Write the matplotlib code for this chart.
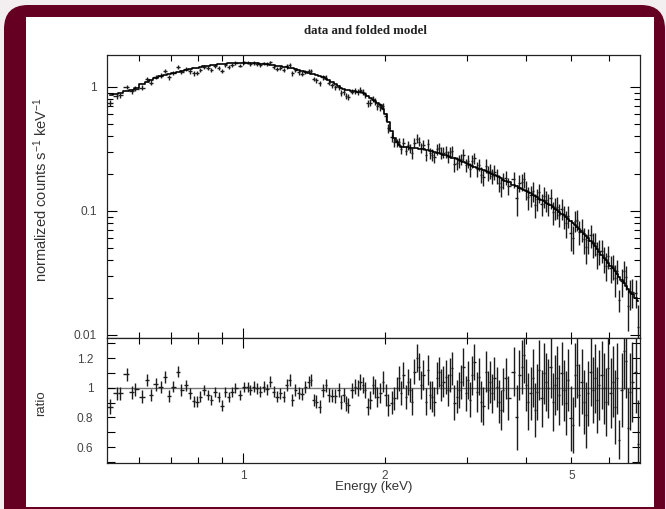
import numpy as np
import matplotlib
matplotlib.use("Agg")
import matplotlib.pyplot as plt
from matplotlib.patches import FancyBboxPatch, Rectangle
from matplotlib.transforms import IdentityTransform
from matplotlib.ticker import FixedLocator, FuncFormatter, NullFormatter, LogLocator, MultipleLocator

plt.rcParams.update({
    "font.family": "Liberation Sans",
    "mathtext.fontset": "custom",
    "mathtext.rm": "Liberation Sans",
    "mathtext.it": "Liberation Sans:italic",
    "font.size": 8.6,
    "axes.linewidth": 0.9,
})

# ===============================
# spectrum: channel energy (keV), folded model,
# data/model ratio and its 1-sigma error
# ===============================
energy = [
    0.520, 0.537, 0.545, 0.564, 0.580, 0.589, 0.609, 0.624, 0.636, 0.650,
    0.666, 0.682, 0.694, 0.709, 0.725, 0.738, 0.755, 0.769, 0.784, 0.797,
    0.810, 0.826, 0.840, 0.855, 0.872, 0.886, 0.901, 0.916, 0.930, 0.946,
    0.962, 0.982, 1.005, 1.023,
    1.035, 1.052, 1.069, 1.087, 1.105, 1.123, 1.141, 1.160, 1.180, 1.199,
    1.218, 1.239, 1.255, 1.270, 1.290, 1.311, 1.333, 1.355, 1.377, 1.393,
    1.411, 1.430, 1.453, 1.478, 1.502, 1.519, 1.544, 1.570, 1.595, 1.614,
    1.635, 1.656, 1.675, 1.703, 1.731, 1.751, 1.774, 1.798, 1.818, 1.839,
    1.863, 1.888, 1.910, 1.931, 1.957, 1.983, 2.012, 2.038,
    2.072, 2.099, 2.123, 2.147, 2.169, 2.193, 2.219, 2.241, 2.266, 2.292,
    2.315, 2.342, 2.368, 2.392, 2.419, 2.447, 2.472, 2.500, 2.528, 2.553,
    2.583, 2.612, 2.638, 2.668, 2.699, 2.726, 2.757, 2.788, 2.816, 2.849,
    2.881, 2.909, 2.942, 2.977, 3.007, 3.041, 3.075, 3.105, 3.142, 3.178,
    3.209, 3.245, 3.284, 3.316, 3.354, 3.392, 3.425, 3.466, 3.505, 3.539,
    3.579, 3.622, 3.657,
    3.772, 3.823, 3.872, 3.918, 3.962, 4.001, 4.047, 4.094, 4.135, 4.182,
    4.229, 4.270, 4.321, 4.370, 4.413, 4.463, 4.516, 4.560, 4.612, 4.664,
    4.710, 4.765, 4.819, 4.867, 4.922, 4.980, 5.029, 5.086, 5.144, 5.194,
    5.255, 5.315, 5.367, 5.428, 5.492, 5.546, 5.609, 5.673, 5.728, 5.796,
    5.862, 5.920, 5.986, 6.057, 6.117, 6.186, 6.256, 6.318, 6.393, 6.466,
    6.529, 6.603, 6.681, 6.747, 6.857, 6.935,
]

model = [
    0.856, 0.877, 0.887, 0.921, 0.951, 0.978, 1.048, 1.103, 1.139, 1.179,
    1.227, 1.251, 1.268, 1.290, 1.314, 1.335, 1.364, 1.387, 1.413, 1.435,
    1.458, 1.473, 1.485, 1.498, 1.514, 1.526, 1.536, 1.541, 1.547, 1.552,
    1.557, 1.565, 1.569, 1.563,
    1.559, 1.554, 1.549, 1.543, 1.538, 1.533, 1.517, 1.501, 1.484, 1.469,
    1.454, 1.438, 1.426, 1.410, 1.386, 1.363, 1.339, 1.316, 1.295, 1.280,
    1.266, 1.250, 1.231, 1.212, 1.169, 1.138, 1.094, 1.053, 1.015, 0.989,
    0.962, 0.953, 0.945, 0.933, 0.923, 0.916, 0.908, 0.900, 0.875, 0.847,
    0.815, 0.787, 0.764, 0.742, 0.716, 0.669, 0.608, 0.526,
    0.4399, 0.3871, 0.3581, 0.3381, 0.3294, 0.3282, 0.3270, 0.3258, 0.3240, 0.3228,
    0.3216, 0.3204, 0.3180, 0.3157, 0.3133, 0.3110, 0.3087, 0.3064, 0.3024, 0.2991,
    0.2953, 0.2914, 0.2882, 0.2844, 0.2808, 0.2777, 0.2741, 0.2693, 0.2651, 0.2602,
    0.2559, 0.2517, 0.2474, 0.2429, 0.2393, 0.2350, 0.2311, 0.2277, 0.2235, 0.2198,
    0.2165, 0.2129, 0.2090, 0.2059, 0.2025, 0.1982, 0.1945, 0.1903, 0.1863, 0.1829,
    0.1790, 0.1750, 0.1718,
    0.1621, 0.1581, 0.1543, 0.1509, 0.1477, 0.1450, 0.1419, 0.1387, 0.1356, 0.1321,
    0.1287, 0.1259, 0.1226, 0.1195, 0.1168, 0.1139, 0.1108, 0.1077, 0.1042, 0.1009,
    0.0981, 0.0949, 0.0919, 0.0894, 0.0867, 0.0835, 0.0804, 0.0771, 0.0739, 0.0712,
    0.0681, 0.0653, 0.0629, 0.0602, 0.0574, 0.0547, 0.0518, 0.0490, 0.0468, 0.0442,
    0.0418, 0.0400, 0.0381, 0.0361, 0.0345, 0.0328, 0.0311, 0.0296, 0.0278, 0.0263,
    0.0250, 0.0236, 0.0224, 0.0214, 0.0198, 0.0188,
]

ratio = [
    0.872, 0.962, 0.962, 1.090, 0.969, 0.989, 0.939, 1.052, 0.951, 1.022,
    1.007, 1.074, 0.944, 1.007, 1.108, 0.984, 1.018, 0.962, 0.910, 0.906,
    0.939, 0.984, 0.951, 0.917, 0.973, 0.939, 0.880, 0.973, 0.939, 0.973,
    1.000, 0.951, 1.007, 1.007,
    0.984, 1.007, 0.996, 0.973, 1.007, 0.991, 1.040, 0.973, 0.939, 0.962,
    0.939, 1.018, 1.052, 0.917, 0.984, 0.962, 0.955, 1.007, 1.040, 1.052,
    0.917, 0.906, 0.872, 0.984, 1.018, 0.951, 0.946, 0.946, 0.984, 0.906,
    0.951, 0.895, 0.883, 0.984, 1.007, 0.996, 1.040, 1.018, 0.984, 0.872,
    0.917, 1.018, 0.996, 0.939, 0.962, 1.040, 0.951, 0.883,
    0.900, 0.930, 0.996, 1.063, 0.962, 1.085, 0.939, 1.040, 0.984, 0.906,
    1.108, 1.198, 1.141, 1.018, 1.085, 0.906, 1.119, 0.950, 0.939, 0.906,
    1.063, 1.108, 1.018, 1.040, 1.074, 0.984, 1.085, 1.130, 0.900, 0.939,
    0.984, 1.040, 1.141, 0.962, 1.052, 0.920, 1.085, 1.175, 0.973, 1.074,
    0.906, 0.880, 1.108, 0.984, 1.040, 0.962, 1.063, 1.007, 0.906, 0.850,
    0.984, 1.063, 0.930,
    1.108, 0.800, 1.085, 1.141, 1.220, 1.018, 0.906, 0.962, 1.063, 0.850,
    0.973, 1.119, 0.928, 1.097, 1.040, 0.996, 1.141, 0.906, 1.018, 1.063,
    0.951, 1.097, 0.984, 0.895, 1.052, 0.793, 0.750, 1.085, 1.153, 0.951,
    1.040, 0.906, 0.816, 0.962, 1.108, 0.984, 1.063, 0.917, 1.018, 1.085,
    0.996, 0.906, 1.130, 0.962, 1.040, 0.872, 1.063, 0.650, 0.984, 1.250,
    1.180, 0.726, 0.973, 1.040, 1.108, 0.620,
]

ratio_err = [
    0.050, 0.046, 0.046, 0.045, 0.044, 0.044, 0.043, 0.042, 0.041, 0.041,
    0.040, 0.040, 0.039, 0.039, 0.038, 0.038, 0.037, 0.037, 0.037, 0.036,
    0.036, 0.036, 0.035, 0.035, 0.035, 0.034, 0.034, 0.034, 0.034, 0.033,
    0.033, 0.033, 0.033, 0.033,
    0.035, 0.035, 0.036, 0.036, 0.036, 0.037, 0.037, 0.037, 0.038, 0.038,
    0.038, 0.039, 0.039, 0.040, 0.040, 0.040, 0.041, 0.041, 0.042, 0.042,
    0.042, 0.043, 0.043, 0.044, 0.044, 0.045, 0.045, 0.046, 0.046, 0.047,
    0.048, 0.049, 0.050, 0.051, 0.052, 0.053, 0.054, 0.055, 0.056, 0.058,
    0.060, 0.062, 0.064, 0.066, 0.068, 0.070, 0.072, 0.074,
    0.075, 0.078, 0.074, 0.082, 0.080, 0.085, 0.079, 0.088, 0.083, 0.090,
    0.086, 0.095, 0.090, 0.094, 0.099, 0.092, 0.102, 0.096, 0.104, 0.098,
    0.108, 0.100, 0.110, 0.104, 0.114, 0.106, 0.116, 0.110, 0.120, 0.112,
    0.122, 0.114, 0.126, 0.118, 0.128, 0.120, 0.132, 0.122, 0.134, 0.126,
    0.136, 0.128, 0.140, 0.130, 0.142, 0.132, 0.144, 0.134, 0.146, 0.136,
    0.148, 0.138, 0.150,
    0.165, 0.220, 0.170, 0.180, 0.185, 0.175, 0.190, 0.180, 0.195, 0.185,
    0.190, 0.200, 0.190, 0.205, 0.195, 0.200, 0.210, 0.195, 0.205, 0.215,
    0.200, 0.210, 0.205, 0.215, 0.210, 0.220, 0.190, 0.215, 0.225, 0.210,
    0.220, 0.215, 0.225, 0.220, 0.230, 0.220, 0.230, 0.225, 0.235, 0.230,
    0.240, 0.230, 0.245, 0.235, 0.240, 0.250, 0.240, 0.130, 0.250, 0.260,
    0.250, 0.270, 0.260, 0.270, 0.280, 0.300,
]

x_major = [1]
x_minor = [0.6, 0.7, 0.8, 0.9, 2, 3, 4, 5, 6]
x_labelled = [1, 2, 5]

# ===============================
# derived quantities
# ===============================
e = np.array(energy)
m = np.array(model)
r = np.array(ratio)
r_err = np.array(ratio_err)

# channel boundaries halfway (in log) between neighbouring channels
mid = np.sqrt(e[:-1] * e[1:])
lo = np.concatenate([[e[0] ** 2 / mid[0]], mid])
hi = np.concatenate([mid, [e[-1] ** 2 / mid[-1]]])
xerr = np.vstack([e - lo, hi - e])

counts = m * r
counts_err = m * r_err

# ===============================
# figure + frame
# ===============================
W, H = 666, 509
fig = plt.figure(figsize=(W / 100, H / 100), dpi=100)
fig.patch.set_facecolor("#f3eff1")

frame = FancyBboxPatch((4, -40), 661, H - 5 + 40,
                       boxstyle="round,pad=0,rounding_size=24",
                       facecolor="#660022", edgecolor="none",
                       transform=IdentityTransform(), zorder=-2)
fig.add_artist(frame)
inner = Rectangle((26, 2), 628, 490, facecolor="white", edgecolor="none",
                  transform=IdentityTransform(), zorder=-1)
fig.add_artist(inner)

left = 106.5 / W
width = (640 - 106.5) / W
ax = fig.add_axes([left, 1 - 337.7 / H, width, (337.7 - 55) / H])
axr = fig.add_axes([left, 1 - 462.7 / H, width, 125 / H])

bar_kw = dict(fmt="none", ecolor="#1c1c1c", elinewidth=1.0, capsize=0)

# top panel: data and folded model
ax.errorbar(e, counts, xerr=xerr, yerr=counts_err, zorder=2, **bar_kw)
ax.plot(e, m, drawstyle="steps-mid", color="black", lw=1.2, zorder=3)
ax.set_xscale("log")
ax.set_yscale("log")
ax.set_xlim(0.511, 7.0)
ax.set_ylim(0.0095, 1.81)

# bottom panel: ratio
axr.axhline(1.0, color="#777777", lw=1.0, zorder=1)
axr.errorbar(e, r, xerr=xerr, yerr=r_err, zorder=2, **bar_kw)
axr.set_xscale("log")
axr.set_xlim(0.511, 7.0)
axr.set_ylim(0.495, 1.337)

fmt_g = FuncFormatter(lambda v, p: f"{v:g}")
for a in (ax, axr):
    a.xaxis.set_major_locator(FixedLocator(x_major))
    a.xaxis.set_minor_locator(FixedLocator(x_minor))
    a.tick_params(which="both", direction="in", top=True, right=True,
                  width=0.8, colors="black", labelcolor="#444444")
    a.tick_params(which="major", length=7)
    a.tick_params(which="minor", length=4)
    for s in a.spines.values():
        s.set_color("#222222")

ax.xaxis.set_major_formatter(NullFormatter())
ax.xaxis.set_minor_formatter(NullFormatter())
ax.yaxis.set_major_locator(LogLocator(base=10))
ax.yaxis.set_minor_locator(LogLocator(base=10, subs=np.arange(2, 10)))
ax.yaxis.set_major_formatter(fmt_g)
ax.yaxis.set_minor_formatter(NullFormatter())
ax.tick_params(axis="y", pad=7)

lab = FuncFormatter(lambda v, p: f"{v:g}" if any(abs(v - t) < 1e-6 for t in x_labelled) else "")
axr.xaxis.set_major_formatter(lab)
axr.xaxis.set_minor_formatter(lab)
axr.tick_params(axis="x", which="both", pad=5)
axr.yaxis.set_major_locator(MultipleLocator(0.2))
axr.yaxis.set_minor_locator(MultipleLocator(0.1))
axr.yaxis.set_major_formatter(fmt_g)
axr.tick_params(axis="y", which="both", length=6, pad=9.5)

# labels
fig.text(374 / W, 1 - 487 / H, "Energy (keV)", ha="center", va="center",
         fontsize=9.5, color="#333333")
fig.text(41 / W, 1 - 190 / H, r"normalized counts s$^{-1}$ keV$^{-1}$",
         rotation=90, ha="center", va="center", fontsize=10.5, color="#333333")
fig.text(41 / W, 1 - 403 / H, "ratio", rotation=90, ha="center", va="center",
         fontsize=9.5, color="#333333")
fig.text(365 / W, 1 - 31 / H, "data and folded model", ha="center", va="center",
         fontsize=9.3, fontweight="bold", family="Liberation Serif", color="#222222")

fig.savefig("out.png", dpi=100, facecolor=fig.get_facecolor())
